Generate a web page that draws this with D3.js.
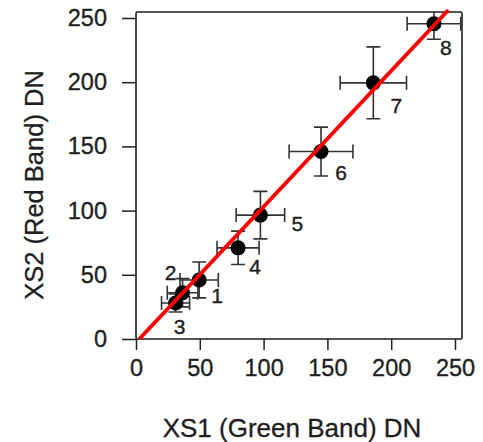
<!DOCTYPE html>
<html>
<head>
<meta charset="utf-8">
<script src="https://cdn.jsdelivr.net/npm/d3@7"></script>
<style>
  html, body { margin: 0; padding: 0; background: #fff; }
  svg { display: block; font-family: "Liberation Sans", Arial, sans-serif; }
</style>
</head>
<body>
<svg id="chart"></svg>
<script>
// XS1 green vs XS2 red band DN, eight targets with error bars + fit line

const pointIds = ['1', '2', '3', '4', '5', '6', '7', '8'];
const greenDN  = [49.5, 36.5, 31, 80, 97.5, 145, 186, 233.5];
const redDN    = [46, 36, 28, 71, 96.5, 146, 199.5, 245.5];
const greenErr = [15, 12, 11, 16.5, 19, 25, 26, 21];
const redErr   = [14, 11, 7, 13, 18.5, 19, 28, 12];
const fitLine  = { slope: 1.058, intercept: -2.75 };
const xTicks   = [0, 50, 100, 150, 200, 250];
const yTicks   = [0, 50, 100, 150, 200, 250];

// label nudges (px) for the point numbers, roughly as in the figure
const labelOffsets = [[18, 16], [-12, -20], [4, 23], [17, 19], [37, 8], [20, 21], [23, 23], [12, 24]];

const W = 483, H = 442;
const box = { left: 136, right: 462, top: 12, bottom: 339 };

const svg = d3.select('#chart').attr('width', W).attr('height', H);

const x = d3.scaleLinear().domain([0, 256]).range([box.left, box.left + 256 * 1.276]);
const y = d3.scaleLinear().domain([0, 256]).range([box.bottom, box.bottom - 256 * 1.284]);

const ink = '#1e1e1e';

// ── Axes ─────────────────────────────────────────────────────────────────
const xAxis = svg.append('g')
    .attr('transform', `translate(0,${box.bottom})`)
    .call(d3.axisBottom(x).tickValues(xTicks).tickSize(11).tickPadding(9).tickSizeOuter(0));
const yAxis = svg.append('g')
    .attr('transform', `translate(${box.left},0)`)
    .call(d3.axisLeft(y).tickValues(yTicks).tickSize(14).tickPadding(15).tickSizeOuter(0));

[xAxis, yAxis].forEach(a => {
    a.select('.domain').remove();
    a.selectAll('line').attr('stroke', ink).attr('stroke-width', 1.5);
    a.selectAll('text').attr('fill', ink).attr('font-size', '23.5px')
        .attr('stroke', ink).attr('stroke-width', 0.35);
});

// plot box
svg.append('rect')
    .attr('x', box.left).attr('y', box.top)
    .attr('width', box.right - box.left).attr('height', box.bottom - box.top)
    .attr('fill', 'none').attr('stroke', ink).attr('stroke-width', 1.6).attr('rx', 1.5);

// titles
svg.append('text')
    .attr('x', 292).attr('y', 437)
    .attr('text-anchor', 'middle')
    .attr('font-size', '26px').attr('fill', ink)
    .attr('stroke', ink).attr('stroke-width', 0.3)
    .text('XS1 (Green Band) DN');

svg.append('text')
    .attr('transform', 'translate(43,185) rotate(-90)')
    .attr('text-anchor', 'middle')
    .attr('font-size', '25.5px').attr('fill', ink)
    .attr('stroke', ink).attr('stroke-width', 0.3)
    .text('XS2 (Red Band) DN');

// ── Error bars ───────────────────────────────────────────────────────────
const pts = pointIds.map((id, i) => ({
    id, gx: greenDN[i], ry: redDN[i], ge: greenErr[i], re: redErr[i], off: labelOffsets[i]
}));

const cap = 7;
const eb = svg.append('g').attr('stroke', '#333').attr('stroke-width', 1.6).attr('fill', 'none');

pts.forEach(d => {
    const cx = x(d.gx), cy = y(d.ry);
    const x0 = x(d.gx - d.ge), x1 = Math.min(x(d.gx + d.ge), box.right);
    const y0 = y(d.ry - d.re), y1 = Math.max(y(d.ry + d.re), box.top);
    const path = d3.path();
    path.moveTo(x0, cy); path.lineTo(x1, cy);
    path.moveTo(x0, cy - cap); path.lineTo(x0, cy + cap);
    path.moveTo(x1, cy - cap); path.lineTo(x1, cy + cap);
    path.moveTo(cx, y0); path.lineTo(cx, y1);
    path.moveTo(cx - cap, y0); path.lineTo(cx + cap, y0);
    if (y1 > box.top) { path.moveTo(cx - cap, y1); path.lineTo(cx + cap, y1); }
    eb.append('path').attr('d', path.toString());
});

// points
svg.append('g').selectAll('circle')
    .data(pts).join('circle')
    .attr('cx', d => x(d.gx)).attr('cy', d => y(d.ry))
    .attr('r', 7.5).attr('fill', '#000');

// fit line, clipped to the top of the box
const xStart = -fitLine.intercept / fitLine.slope;
const xEnd = (y.invert(box.top - 2) - fitLine.intercept) / fitLine.slope;
svg.append('line')
    .attr('x1', x(xStart)).attr('y1', y(0))
    .attr('x2', x(xEnd)).attr('y2', y(fitLine.slope * xEnd + fitLine.intercept))
    .attr('stroke', '#ff0000').attr('stroke-width', 4);

// point numbers
svg.append('g').selectAll('text')
    .data(pts).join('text')
    .attr('x', d => x(d.gx) + d.off[0]).attr('y', d => y(d.ry) + d.off[1])
    .attr('text-anchor', 'middle').attr('dominant-baseline', 'central')
    .attr('font-size', '21px').attr('fill', ink)
    .attr('stroke', ink).attr('stroke-width', 0.4)
    .text(d => d.id);
</script>
</body>
</html>
